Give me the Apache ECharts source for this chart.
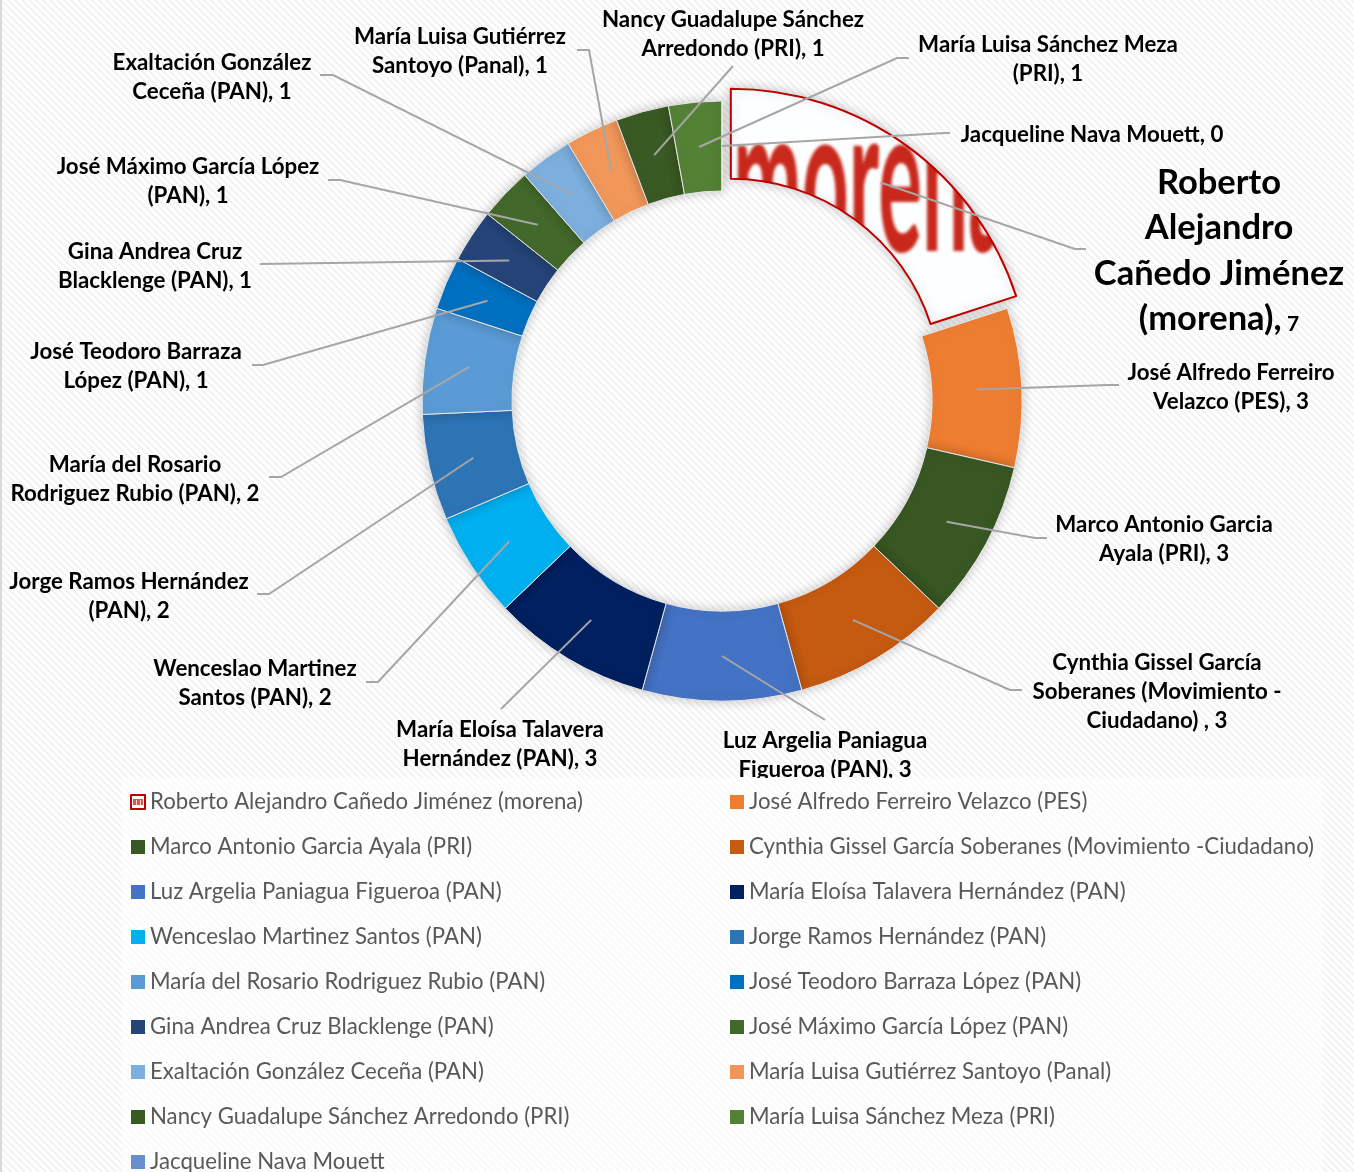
<!DOCTYPE html>
<html>
<head>
<meta charset="utf-8">
<style>
    html,body{margin:0;padding:0;background:#fff;}
    #chart{width:1354px;height:1172px;}
</style>
<script src="https://cdn.jsdelivr.net/npm/echarts@6/dist/echarts.min.js"></script>
</head>
<body>
<div id="chart"></div>
<script>
    // 数据
    var names = [
        'Roberto Alejandro Cañedo Jiménez (morena)',
        'José Alfredo Ferreiro Velazco (PES)',
        'Marco Antonio Garcia Ayala (PRI)',
        'Cynthia Gissel García Soberanes (Movimiento -Ciudadano)',
        'Luz Argelia Paniagua Figueroa (PAN)',
        'María Eloísa Talavera Hernández (PAN)',
        'Wenceslao Martinez Santos (PAN)',
        'Jorge Ramos Hernández (PAN)',
        'María del Rosario Rodriguez Rubio (PAN)',
        'José Teodoro Barraza López (PAN)',
        'Gina Andrea Cruz Blacklenge (PAN)',
        'José Máximo García López (PAN)',
        'Exaltación González Ceceña (PAN)',
        'María Luisa Gutiérrez Santoyo (Panal)',
        'Nancy Guadalupe Sánchez Arredondo (PRI)',
        'María Luisa Sánchez Meza (PRI)',
        'Jacqueline Nava Mouett'
    ];
    var values = [7, 3, 3, 3, 3, 3, 2, 2, 2, 1, 1, 1, 1, 1, 1, 1, 0];
    var colors = ['#ffffff', '#ED7D31', '#385723', '#C55A11', '#4472C4', '#002060', '#00B0F0', '#2E75B6',
        '#5B9BD5', '#0070C0', '#264478', '#43682B', '#7CAFDD', '#F1975A', '#3A5A24', '#548235', '#698ED0'];
    var labelTexts = [
        '',
        'José Alfredo Ferreiro\nVelazco (PES), 3',
        'Marco Antonio Garcia\nAyala (PRI), 3',
        'Cynthia Gissel García\nSoberanes (Movimiento -\nCiudadano) , 3',
        'Luz Argelia Paniagua\nFigueroa (PAN), 3',
        'María Eloísa Talavera\nHernández (PAN), 3',
        'Wenceslao Martinez\nSantos (PAN), 2',
        'Jorge Ramos Hernández\n(PAN), 2',
        'María del Rosario\nRodriguez Rubio (PAN), 2',
        'José Teodoro Barraza\nLópez (PAN), 1',
        'Gina Andrea Cruz\nBlacklenge (PAN), 1',
        'José Máximo García López\n(PAN), 1',
        'Exaltación González\nCeceña (PAN), 1',
        'María Luisa Gutiérrez\nSantoyo (Panal), 1',
        'Nancy Guadalupe Sánchez\nArredondo (PRI), 1',
        'María Luisa Sánchez Meza\n(PRI), 1',
        'Jacqueline Nava Mouett, 0'
    ];

    // 标签位置和引导线 [文字中心x, 文字中心y, 折点..., 终点]
    var labelPlaces = [
        [1219, 251, [1075, 249], [1086, 249]],
        [1231, 387, [1108, 385], [1119, 385]],
        [1164, 539, [1035, 538], [1047, 538]],
        [1157, 692, [1010, 690], [1022, 690]],
        [825, 755, [825, 720]],
        [500, 744, [501, 709]],
        [255, 683, [378, 682], [366, 682]],
        [129, 596, [269, 594], [257, 594]],
        [135, 479, [281, 477], [269, 477]],
        [136, 366, [263, 365], [252, 365]],
        [155, 266, [260, 264]],
        [188, 181, [340, 180], [328, 180]],
        [212, 77, [333, 75], [320, 75]],
        [460, 51, [589, 50], [577, 50]],
        [733, 34, [733, 66]],
        [1048, 59, [897, 58], [909, 58]],
        [1092, 135, [945, 133], [950, 133]]
    ];

    var centerX = 722, centerY = 401, innerR = 210, outerR = 300, offsetR = 15;
    var total = values.reduce(function (a, b) { return a + b; }, 0);

    // 第一块向外偏移的方向
    var firstMid = values[0] / 2 / total * Math.PI * 2;
    var shiftX = offsetR * Math.sin(firstMid), shiftY = -offsetR * Math.cos(firstMid);

    // 条纹背景
    function stripes(bg, fg) {
        var c = document.createElement('canvas');
        c.width = 7; c.height = 7;
        var ctx = c.getContext('2d');
        ctx.fillStyle = bg;
        ctx.fillRect(0, 0, 7, 7);
        ctx.fillStyle = fg;
        for (var i = 0; i < 7; i++) {
            for (var k = 0; k < 3; k++) {
                ctx.fillRect((i + k) % 7, i, 1, 1);
            }
        }
        return c;
    }

    // morena 图片填充
    function logoFill() {
        var c = document.createElement('canvas');
        c.width = 1354; c.height = 1172;
        var ctx = c.getContext('2d');
        ctx.fillStyle = '#fdfeff';
        ctx.fillRect(0, 0, 1354, 1172);
        ctx.filter = 'blur(1.5px)';
        ctx.fillStyle = '#c9291c';
        ctx.save();
        ctx.translate(733, 251);
        ctx.scale(0.4, 1);
        ctx.font = 'bold 205px Lato';
        ctx.fillText('morena', 0, 0);
        ctx.restore();
        return c;
    }

    function logoIcon() {
        var c = document.createElement('canvas');
        c.width = 14; c.height = 14;
        var ctx = c.getContext('2d');
        ctx.fillStyle = '#ffffff';
        ctx.fillRect(0, 0, 14, 14);
        ctx.fillStyle = '#cf5a50';
        ctx.fillRect(2, 4, 10, 6);
        ctx.fillStyle = '#f4d8d4';
        ctx.fillRect(5, 5, 1, 5);
        ctx.fillRect(9, 5, 1, 5);
        return c;
    }

    var pageFill = { image: stripes('#ffffff', '#f3f3f3'), repeat: 'repeat' };
    var legendFill = { image: stripes('#ffffff', '#fafafa'), repeat: 'repeat' };

    // 可见的扇区
    var ringData = names.map(function (n, i) {
        if (i === 0) {
            return { name: n, value: values[i], itemStyle: { color: 'transparent', borderWidth: 0, shadowBlur: 0 } };
        }
        return { name: n, value: values[i], itemStyle: { color: colors[i] } };
    });

    // 标签层，扇区透明，引导线才能压在环上面
    var labelData = names.map(function (n, i) {
        var item = { name: n, value: values[i] };
        if (i === 0) {
            item.label = {
                formatter: '{b|Roberto}\n{b|Alejandro}\n{b|Cañedo Jiménez}\n{b|(morena),} {s|7}',
                rich: {
                    b: { fontFamily: 'Lato', fontWeight: 'bold', fontSize: 34.5, lineHeight: 45.5, color: '#000' },
                    s: { fontFamily: 'Lato', fontWeight: 'bold', fontSize: 21, lineHeight: 30, padding: [10, 0, 0, 0], color: '#000' }
                }
            };
        } else {
            item.label = { formatter: labelTexts[i] };
        }
        return item;
    });

    // 引导线从环的中间出发
    function ringPoint(index) {
        var before = 0;
        for (var i = 0; i < index; i++) before += values[i];
        var a = (before + values[index] / 2) / total * Math.PI * 2;
        var r = (innerR + outerR) / 2;
        var off = index === 0 ? offsetR : 0;
        return [centerX + (r + off) * Math.sin(a), centerY - (r + off) * Math.cos(a)];
    }

    function legendItems(odd) {
        var list = [];
        names.forEach(function (n, i) {
            if (i % 2 !== odd) return;
            var item = { name: n };
            if (i === 0) {
                item.itemStyle = {
                    color: { image: logoIcon(), repeat: 'no-repeat' },
                    borderColor: '#C00000',
                    borderWidth: 2
                };
            }
            list.push(item);
        });
        return list;
    }

    function legendOf(left, odd) {
        return {
            orient: 'vertical',
            left: left,
            top: 791,
            height: 400,
            padding: 0,
            z: 5,
            icon: 'rect',
            itemWidth: 14,
            itemHeight: 14,
            itemGap: 23,
            selectedMode: false,
            itemStyle: { borderWidth: 0, shadowBlur: 0, shadowColor: 'transparent' },
            textStyle: { fontFamily: 'Lato', fontSize: 22.2, lineHeight: 22, color: '#595959' },
            data: legendItems(odd)
        };
    }

    var chart = echarts.init(document.getElementById('chart'), null, { renderer: 'canvas' });
    chart.setOption({
        animation: false,
        backgroundColor: pageFill,
        graphic: [
            { type: 'rect', z: 4, shape: { x: 122, y: 778, width: 1200, height: 394 }, style: { fill: legendFill } },
            { type: 'rect', z: 4, shape: { x: 0, y: 0, width: 2, height: 1172 }, style: { fill: '#d9d9d9' } }
        ],
        legend: [legendOf(130, 0), legendOf(730, 1)],
        series: [
            {
                // 突出的第一块
                type: 'pie',
                center: [centerX + shiftX, centerY + shiftY],
                radius: [innerR, outerR],
                startAngle: 90,
                silent: true,
                label: { show: false },
                labelLine: { show: false },
                data: [
                    {
                        name: names[0],
                        value: values[0],
                        itemStyle: {
                            color: { image: logoFill(), repeat: 'no-repeat' },
                            borderColor: '#C00000',
                            borderWidth: 2,
                            shadowBlur: 12,
                            shadowColor: 'rgba(0,0,0,0.22)'
                        }
                    },
                    { name: '', value: total - values[0], itemStyle: { color: 'transparent', borderWidth: 0 } }
                ]
            },
            {
                type: 'pie',
                center: [centerX, centerY],
                radius: [innerR, outerR],
                startAngle: 90,
                silent: true,
                itemStyle: {
                    borderColor: '#e8e8e8',
                    borderWidth: 1,
                    shadowBlur: 12,
                    shadowColor: 'rgba(0,0,0,0.22)'
                },
                label: { show: false },
                labelLine: { show: false },
                data: ringData
            },
            {
                type: 'pie',
                z: 3,
                center: [centerX, centerY],
                radius: [innerR, outerR],
                startAngle: 90,
                silent: true,
                avoidLabelOverlap: false,
                itemStyle: { color: 'transparent', borderWidth: 0 },
                label: {
                    show: true,
                    position: 'outside',
                    overflow: 'none',
                    fontFamily: 'Lato',
                    fontWeight: 'bold',
                    fontSize: 22.3,
                    lineHeight: 29,
                    color: '#000',
                    align: 'center'
                },
                labelLine: {
                    show: true,
                    lineStyle: { color: '#a6a6a6', width: 2 }
                },
                labelLayout: function (params) {
                    var p = labelPlaces[params.dataIndex];
                    return {
                        x: p[0],
                        y: p[1],
                        align: 'center',
                        verticalAlign: 'middle',
                        labelLinePoints: [ringPoint(params.dataIndex)].concat(p.slice(2))
                    };
                },
                data: labelData
            }
        ]
    });
</script>
</body>
</html>
